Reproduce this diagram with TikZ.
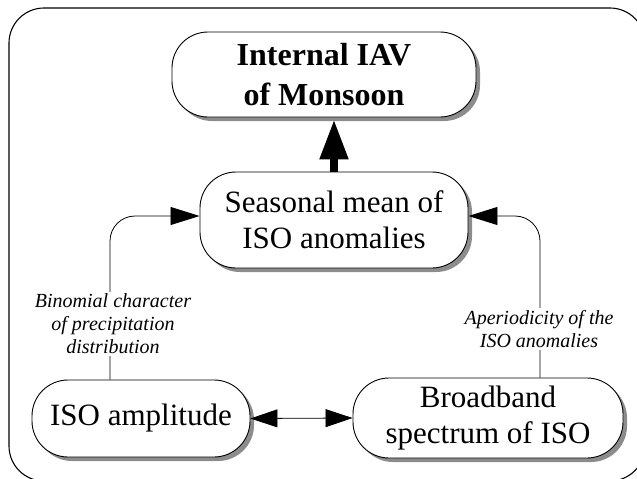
\documentclass[tikz,border=0pt]{standalone}
\usepackage{fontspec}
\setmainfont{Liberation Serif}
\usetikzlibrary{arrows.meta,shadows}

\begin{document}
\begin{tikzpicture}[x=1pt, y=-1pt]
    % ===================================
    % 設定
    % ===================================
    \def\r{36pt}   % 箱の角の丸み
    \def\lx{110}   % 左の接続線の x 座標
    \def\rx{540}   % 右の接続線の x 座標
    \def\ty{216}   % 接続線が曲がる高さ

    \tikzset{
        box/.style={draw, line width=0.9pt, rounded corners=\r, fill=white,
            align=center, font=\fontsize{31}{36}\selectfont,
            drop shadow={shadow xshift=4pt, shadow yshift=-4pt, fill=gray!90, opacity=1}},
        lab/.style={fill=white, inner sep=2pt, align=center,
            font=\itshape\fontsize{20}{23}\selectfont},
        arr/.style={line width=0.8pt, rounded corners=25pt,
            -{Triangle[length=29pt, width=18pt]}},
        twoway/.style={line width=0.8pt,
            {Triangle[length=27pt, width=18pt]}-{Triangle[length=27pt, width=18pt]}}
    }
    % ===================================

    \useasboundingbox (0,0) rectangle (637,479);

    % 外枠
    \draw[line width=1.1pt, rounded corners=35pt] (9,8) rectangle (645,481);

    % 1. 上段の箱
    \node[box, minimum width=304pt, minimum height=85pt,
          font=\bfseries\fontsize{32}{40}\selectfont] (iav) at (324,74.5) {Internal IAV\\of Monsoon};

    % 2. 中段の箱
    \node[box, minimum width=268pt, minimum height=96pt] (mean) at (334,220) {Seasonal mean of\\ISO anomalies};

    % 3. 下段の箱
    \node[box, minimum width=218pt, minimum height=77pt] (amp) at (141,418.5) {ISO amplitude};
    \node[box, minimum width=270pt, minimum height=80pt] (bb) at (488,418) {Broadband\\spectrum of ISO};

    % 曲がり角
    \coordinate (lturn) at (\lx,\ty);
    \coordinate (rturn) at (\rx,\ty);

    % 4. 接続線
    \draw[line width=8pt, shorten >=2pt, -{Triangle[length=40pt, width=27pt]}]
        (mean.north) -- (mean.north |- iav.south);
    \draw[arr] (lturn |- amp.north) -- (lturn) -- (mean.west |- lturn);
    \draw[arr] (rturn |- bb.north) -- (rturn) -- (mean.east |- rturn);
    \draw[twoway] (amp.east) -- (bb.west);

    % 5. 線の上の説明
    \node[lab] (binom) at (113,324) {Binomial character\\of precipitation\\distribution};
    \node[lab] (aper) at (539,329) {Aperiodicity of the\\ISO anomalies};

\end{tikzpicture}
\end{document}
